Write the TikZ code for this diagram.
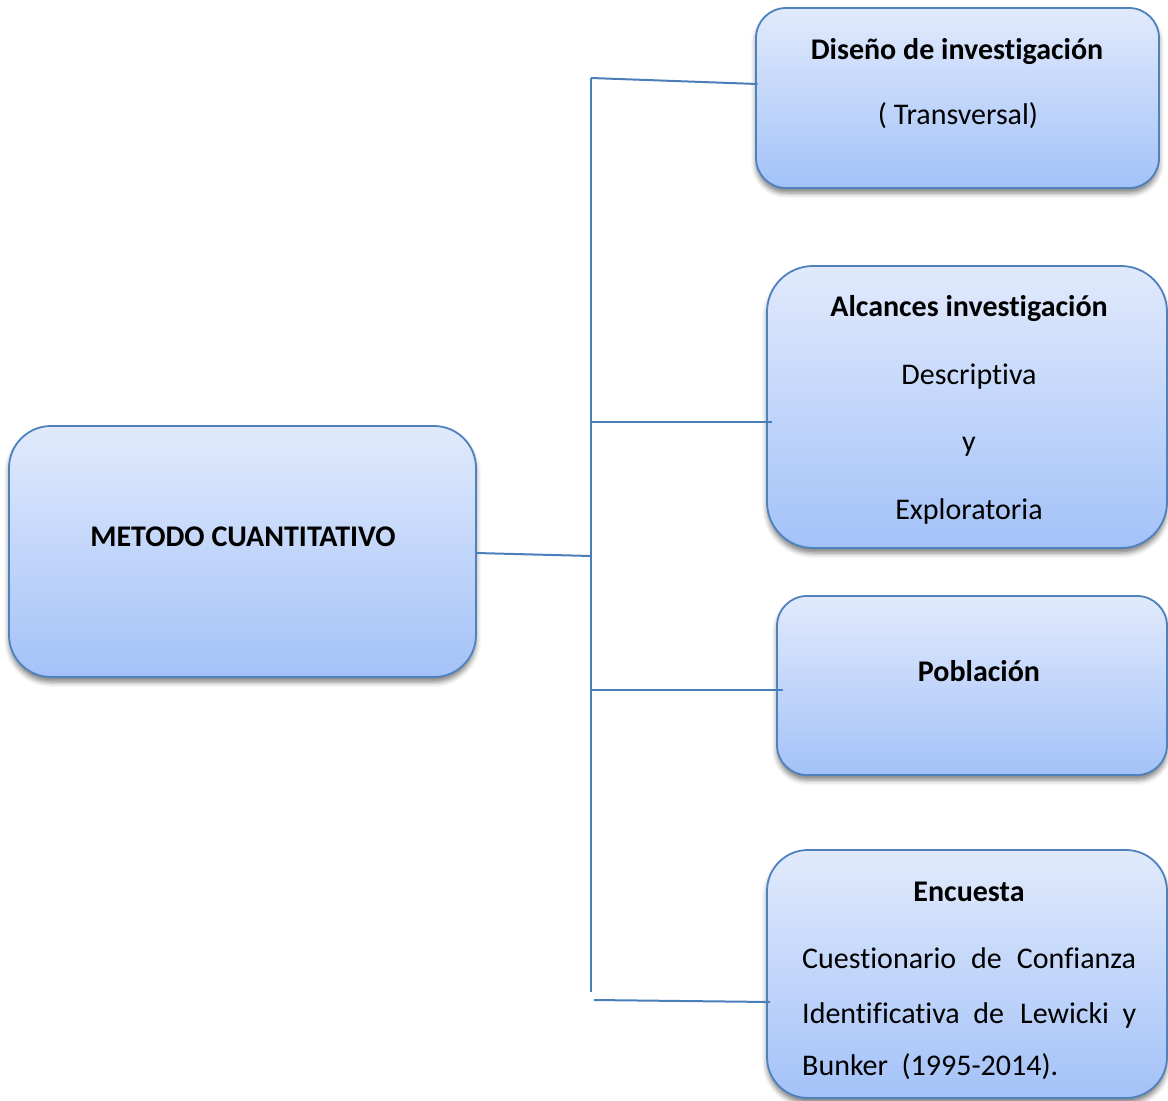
\documentclass[tikz,border=0pt]{standalone}
\usepackage{fontspec}
\setmainfont{Carlito}[Ligatures={NoCommon}]
\usetikzlibrary{shadows.blur}
\definecolor{boxtop}{RGB}{225,234,252}
\definecolor{boxbot}{RGB}{163,194,248}
\definecolor{boxline}{RGB}{79,129,189}
\definecolor{connline}{RGB}{74,126,187}
\begin{document}
\begin{tikzpicture}[x=1pt,y=-1pt,
  box/.style={draw=boxline, line width=1.8pt, top color=boxtop, bottom color=boxbot,
    inner sep=0pt, outer sep=0pt,
    blur shadow={shadow xshift=0pt, shadow yshift=-5pt, shadow blur radius=5pt, shadow opacity=50}},
  conn/.style={draw=connline, line width=2pt},
  lbl/.style={anchor=base, inner sep=0pt, font=\fontsize{30}{36}\selectfont},
  ttl/.style={anchor=base, inner sep=0pt, font=\fontsize{30}{36}\selectfont\bfseries}]
\useasboundingbox (0,0) rectangle (1168,1101);

% boxes
\node[box, rounded corners=42pt, minimum width=467pt, minimum height=251pt] (metodo) at (242.5,551.5) {};
\node[box, rounded corners=30pt, minimum width=403pt, minimum height=180pt] (diseno) at (957.5,98) {};
\node[box, rounded corners=46pt, minimum width=400pt, minimum height=282pt] (alcances) at (967,407) {};
\node[box, rounded corners=30pt, minimum width=390pt, minimum height=179pt] (poblacion) at (972,685.5) {};
\node[box, rounded corners=41pt, minimum width=400pt, minimum height=248pt] (encuesta) at (967,974) {};

% texts
\node[ttl] (tmetodo) at (243,546) {METODO CUANTITATIVO};
\node[ttl] (tdiseno) at (957,59) {Diseño de investigación};
\node[lbl] (ttrans) at (958,124) {( Transversal)};
\node[ttl] (talc) at (969,316) {Alcances investigación};
\node[lbl] (tdesc) at (969,384) {Descriptiva};
\node[lbl] (ty) at (969,451) {y};
\node[lbl] (texpl) at (969,519) {Exploratoria};
\node[ttl] (tpob) at (979,681) {Población};
\node[ttl] (tenc) at (969,901) {Encuesta};
\node[lbl, anchor=base west] (tl1) at (802,968) {\makebox[334pt][s]{Cuestionario\hfill de\hfill Confianza}};
\node[lbl, anchor=base west] (tl2) at (802,1023) {\makebox[334pt][s]{Identificativa\hspace{0.45em}de\hfill Lewicki\hspace{0.45em}y}};
\node[lbl, anchor=base west] (tl3) at (802,1075) {Bunker\hspace{0.45em}(1995-2014).};

% connector junctions on the vertical spine
\coordinate (stop) at (591,78);
\coordinate (sbot) at (591,992);
\coordinate (smid) at (591,556);
\coordinate (s2) at (591,422);
\coordinate (s3) at (591,690);
\coordinate (s4) at (594,1000);

\draw[conn] (stop) -- (sbot);
\draw[conn] ([yshift=-1.5pt]metodo.east) -- (smid);
\draw[conn] (stop) -- ([xshift=1.5pt,yshift=14pt]diseno.west);
\draw[conn] (s2) -- ([xshift=5pt,yshift=-15pt]alcances.west);
\draw[conn] (s3) -- ([xshift=6pt,yshift=-4.5pt]poblacion.west);
\draw[conn] (s4) -- ([xshift=3pt,yshift=-28pt]encuesta.west);
\end{tikzpicture}
\end{document}
